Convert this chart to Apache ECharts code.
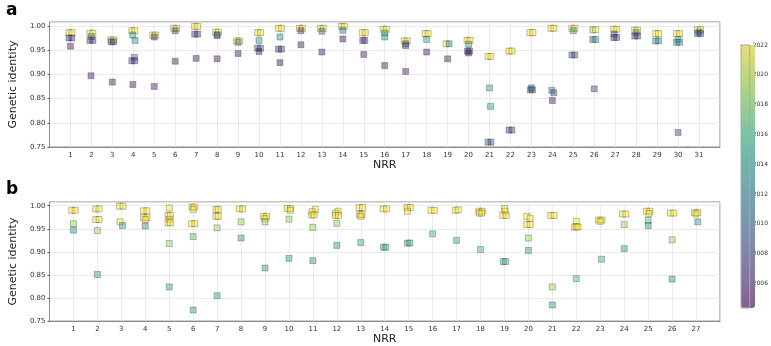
<!DOCTYPE html>
<html>
<head>
<meta charset="utf-8">
<script src="https://cdn.jsdelivr.net/npm/echarts@6/dist/echarts.min.js"></script>
<style>
  html, body { margin: 0; padding: 0; background: #fff; }
  #chart { width: 771px; height: 346px; }
</style>
</head>
<body>
<div id="chart"></div>
<script>
// panel a: NRR position (small jitter as drawn), genetic identity, year
const aX = [
  0.93, 1.07, 0.93, 1.07, 1,
  1.93, 2.07, 2, 1.93, 2.07, 1.98,
  2.93, 3.07, 2.95, 3.05, 3,
  3.93, 4.07, 3.97, 4.08, 4.05, 3.93, 4.07, 3.98,
  4.93, 5.07, 5, 5,
  5.93, 6.07, 6, 6,
  6.93, 7.07, 6.93, 7.07, 7,
  7.93, 8.07, 8, 8, 8,
  8.93, 9.07, 9, 9,
  9.93, 10.07, 10, 9.93, 10.07, 10,
  10.93, 11.07, 11, 10.93, 11.07, 11,
  11.93, 12.07, 12, 12,
  12.93, 13.07, 13, 13,
  13.93, 14.07, 14, 14,
  14.93, 15.07, 14.95, 15.05, 15,
  15.93, 16.07, 16, 16, 16,
  16.93, 17.07, 17, 17, 17,
  17.93, 18.07, 18, 18,
  18.93, 19.07, 19,
  19.93, 20.07, 20, 19.95, 20.05, 20,
  20.93, 21.07, 21, 21.05, 20.93, 21.07,
  21.93, 22.07, 21.93, 22.07,
  22.93, 23.07, 23, 22.95, 23.05,
  23.93, 24.07, 23.97, 24.07, 24,
  24.93, 25.07, 25, 24.93, 25.07,
  25.93, 26.07, 25.93, 26.07, 26,
  26.93, 27.07, 26.95, 26.93, 27.07,
  27.93, 28.07, 28, 27.93, 28.07,
  28.93, 29.07, 28.93, 29.07,
  29.93, 30.07, 30, 29.93, 30.07, 30,
  30.93, 31.07, 31, 30.93, 31.07
];
const aIdentity = [
  0.986, 0.986, 0.975, 0.975, 0.958,
  0.985, 0.985, 0.978, 0.970, 0.970, 0.897,
  0.971, 0.971, 0.967, 0.967, 0.884,
  0.990, 0.990, 0.981, 0.970, 0.935, 0.928, 0.928, 0.879,
  0.981, 0.981, 0.977, 0.875,
  0.995, 0.995, 0.990, 0.927,
  0.999, 0.999, 0.983, 0.983, 0.933,
  0.987, 0.987, 0.982, 0.980, 0.932,
  0.969, 0.969, 0.966, 0.943,
  0.986, 0.986, 0.970, 0.954, 0.954, 0.947,
  0.995, 0.995, 0.977, 0.952, 0.952, 0.924,
  0.995, 0.995, 0.990, 0.961,
  0.995, 0.995, 0.989, 0.946,
  0.999, 0.999, 0.991, 0.973,
  0.986, 0.986, 0.970, 0.970, 0.941,
  0.993, 0.993, 0.985, 0.977, 0.918,
  0.969, 0.969, 0.963, 0.959, 0.906,
  0.984, 0.984, 0.972, 0.946,
  0.963, 0.963, 0.932,
  0.970, 0.970, 0.962, 0.948, 0.948, 0.944,
  0.937, 0.937, 0.872, 0.834, 0.760, 0.760,
  0.948, 0.948, 0.785, 0.785,
  0.986, 0.986, 0.872, 0.868, 0.868,
  0.995, 0.995, 0.867, 0.862, 0.846,
  0.995, 0.995, 0.990, 0.940, 0.940,
  0.992, 0.992, 0.972, 0.972, 0.870,
  0.993, 0.993, 0.983, 0.976, 0.976,
  0.991, 0.991, 0.986, 0.979, 0.979,
  0.984, 0.984, 0.969, 0.969,
  0.984, 0.984, 0.972, 0.966, 0.966, 0.780,
  0.992, 0.992, 0.987, 0.984, 0.984
];
const aYear = [
  2022, 2022, 2007, 2007, 2005,
  2022, 2022, 2014, 2007, 2007, 2005,
  2022, 2022, 2008, 2008, 2005,
  2022, 2022, 2015, 2014, 2010, 2007, 2007, 2005,
  2022, 2022, 2007, 2005,
  2022, 2022, 2007, 2005,
  2022, 2022, 2007, 2007, 2005,
  2022, 2022, 2014, 2007, 2005,
  2022, 2022, 2013, 2005,
  2022, 2022, 2014, 2009, 2009, 2005,
  2022, 2022, 2014, 2007, 2007, 2005,
  2022, 2022, 2007, 2005,
  2022, 2022, 2011, 2005,
  2022, 2022, 2012, 2005,
  2022, 2022, 2007, 2007, 2005,
  2022, 2022, 2015, 2014, 2005,
  2022, 2022, 2010, 2007, 2005,
  2022, 2022, 2014, 2005,
  2022, 2013, 2005,
  2022, 2022, 2015, 2007, 2007, 2005,
  2022, 2022, 2014, 2014, 2010, 2010,
  2022, 2022, 2009, 2009,
  2022, 2022, 2013, 2009, 2009,
  2022, 2022, 2012, 2008, 2005,
  2022, 2022, 2014, 2009, 2009,
  2019, 2022, 2010, 2014, 2007,
  2022, 2022, 2010, 2007, 2007,
  2022, 2022, 2013, 2007, 2007,
  2022, 2022, 2013, 2013,
  2022, 2022, 2015, 2013, 2013, 2007,
  2022, 2022, 2014, 2008, 2008
];

// panel b
const bX = [
  0.93, 1.07, 1, 1,
  1.93, 2.07, 1.93, 2.07, 2, 2,
  2.93, 3.07, 2.95, 3.05,
  3.93, 4.07, 3.93, 4.07, 4, 4,
  5, 4.95, 5.05, 5, 4.95, 5.05, 5, 5,
  5.95, 6.05, 6, 5.93, 6.07, 6, 6,
  6.95, 7.05, 6.95, 7.05, 7, 7,
  7.93, 8.07, 8, 8,
  8.93, 9.07, 9, 9, 9,
  9.93, 10.07, 10.05, 10, 10,
  11.1, 10.97, 10.95, 11.05, 11, 11,
  12.05, 11.95, 11.93, 12.07, 12, 12,
  12.93, 13.07, 12.95, 13.05, 13, 13,
  13.93, 14.07, 13.95, 14.05,
  14.93, 15.07, 14.95, 14.95, 15.05,
  15.93, 16.07, 16,
  16.95, 17.07, 17,
  17.93, 18.07, 17.95, 18.05, 18,
  19, 19.03, 18.93, 19.07, 18.95, 19.05,
  19.93, 20.07, 19.93, 20.07, 20, 20,
  20.93, 21.07, 21, 21,
  22, 21.93, 22, 22.07, 22,
  22.93, 23.07, 23, 23.05,
  23.93, 24.07, 24, 24,
  24.93, 25.07, 25.03, 25, 25,
  25.93, 26.07, 26, 26,
  26.93, 27.07, 27, 27.07
];
const bIdentity = [
  0.990, 0.990, 0.961, 0.947,
  0.993, 0.993, 0.970, 0.970, 0.946, 0.851,
  0.999, 0.999, 0.965, 0.957,
  0.989, 0.989, 0.974, 0.974, 0.970, 0.956,
  0.995, 0.979, 0.979, 0.970, 0.963, 0.963, 0.918, 0.824,
  0.997, 0.997, 0.992, 0.961, 0.961, 0.933, 0.774,
  0.992, 0.992, 0.977, 0.977, 0.952, 0.805,
  0.993, 0.993, 0.965, 0.930,
  0.977, 0.977, 0.972, 0.965, 0.865,
  0.994, 0.994, 0.990, 0.971, 0.886,
  0.992, 0.987, 0.980, 0.980, 0.953, 0.881,
  0.988, 0.984, 0.979, 0.979, 0.962, 0.914,
  0.996, 0.996, 0.981, 0.981, 0.977, 0.920,
  0.993, 0.993, 0.910, 0.910,
  0.996, 0.996, 0.988, 0.919, 0.919,
  0.990, 0.990, 0.939,
  0.990, 0.991, 0.925,
  0.988, 0.988, 0.984, 0.984, 0.905,
  0.994, 0.988, 0.979, 0.979, 0.879, 0.879,
  0.977, 0.973, 0.959, 0.959, 0.930, 0.903,
  0.979, 0.979, 0.824, 0.785,
  0.966, 0.954, 0.954, 0.954, 0.842,
  0.969, 0.969, 0.966, 0.884,
  0.982, 0.982, 0.959, 0.907,
  0.988, 0.988, 0.983, 0.968, 0.957,
  0.984, 0.984, 0.926, 0.841,
  0.985, 0.985, 0.982, 0.965
];
const bYear = [
  2022, 2022, 2019, 2014,
  2022, 2022, 2022, 2022, 2019, 2014,
  2022, 2022, 2022, 2014,
  2022, 2022, 2022, 2022, 2022, 2014,
  2022, 2022, 2022, 2022, 2022, 2022, 2019, 2014,
  2022, 2022, 2022, 2022, 2022, 2017, 2014,
  2022, 2022, 2022, 2022, 2019, 2014,
  2022, 2022, 2019, 2014,
  2022, 2022, 2022, 2019, 2014,
  2022, 2022, 2022, 2019, 2014,
  2022, 2022, 2022, 2022, 2019, 2014,
  2022, 2022, 2022, 2022, 2019, 2014,
  2022, 2022, 2022, 2022, 2022, 2015,
  2022, 2022, 2015, 2016,
  2022, 2022, 2022, 2014, 2016,
  2022, 2022, 2016,
  2022, 2022, 2015,
  2022, 2022, 2022, 2022, 2016,
  2022, 2022, 2022, 2022, 2015, 2016,
  2022, 2022, 2022, 2022, 2019, 2014,
  2022, 2022, 2019, 2014,
  2022, 2022, 2022, 2022, 2016,
  2022, 2022, 2022, 2016,
  2022, 2022, 2019, 2014,
  2022, 2022, 2022, 2017, 2014,
  2022, 2022, 2019, 2014,
  2022, 2022, 2022, 2014
];

const yearTicks = [2006, 2008, 2010, 2012, 2014, 2016, 2018, 2020, 2022];
const viridis = ['#440154', '#482878', '#3e4989', '#31688e', '#26828e',
                 '#1f9e89', '#35b779', '#6ece58', '#b5de2b', '#fde725'];

function fade(hex, a) {
  let r = parseInt(hex.slice(1, 3), 16), g = parseInt(hex.slice(3, 5), 16), b = parseInt(hex.slice(5, 7), 16);
  return 'rgba(' + r + ',' + g + ',' + b + ',' + a + ')';
}

const font = 'DejaVu Sans';
const gridColor = '#e6e6e6';
const frameColor = '#8c8c8c';

function xAxisFor(idx, maxNrr, gap) {
  return {
    gridIndex: idx, type: 'value', min: 0, max: maxNrr + 1, interval: 1,
    name: 'NRR', nameLocation: 'middle', nameGap: gap,
    nameTextStyle: { fontSize: 11, color: '#222', fontFamily: font },
    axisLine: { lineStyle: { color: frameColor } },
    axisTick: { show: false },
    axisLabel: {
      fontSize: 7, color: '#333', fontFamily: font, margin: 5,
      formatter: v => (v >= 1 && v <= maxNrr) ? String(v) : ''
    },
    splitLine: { show: true, lineStyle: { color: gridColor, width: 0.8 } }
  };
}

function yAxisFor(idx) {
  return {
    gridIndex: idx, type: 'value', min: 0.75, max: 1.008, interval: 0.05,
    name: 'Genetic identity', nameLocation: 'middle', nameGap: 25,
    nameTextStyle: { fontSize: 11, color: '#222', fontFamily: font },
    axisLine: { show: true, lineStyle: { color: frameColor } },
    axisTick: { show: true, length: 2, lineStyle: { color: '#555' } },
    axisLabel: {
      fontSize: 7, color: '#333', fontFamily: font, margin: 4, showMaxLabel: false,
      formatter: v => v.toFixed(2)
    },
    splitLine: { show: true, lineStyle: { color: gridColor, width: 0.8 } }
  };
}

function scatterFor(idx, xs, ys, years) {
  return {
    type: 'scatter', xAxisIndex: idx, yAxisIndex: idx,
    symbol: 'rect', symbolSize: 6,
    itemStyle: { borderColor: 'rgba(0,0,0,0.45)', borderWidth: 0.7 },
    data: xs.map((x, i) => [x, ys[i], years[i]])
  };
}

let chart = echarts.init(document.getElementById('chart'), null, { renderer: 'canvas' });
chart.setOption({
  animation: false,
  backgroundColor: '#fff',
  textStyle: { fontFamily: font },
  title: [
    { text: 'a', left: 1, top: -3, textStyle: { fontSize: 17, fontWeight: 'bold', color: '#000', fontFamily: font } },
    { text: 'b', left: 1, top: 176, textStyle: { fontSize: 17, fontWeight: 'bold', color: '#000', fontFamily: font } }
  ],
  grid: [
    { left: 44, top: 22, width: 676, height: 125, show: true, borderColor: frameColor, borderWidth: 1 },
    { left: 44, top: 202, width: 676, height: 125, show: true, borderColor: frameColor, borderWidth: 1 },
    { left: 741, top: 45, width: 14, height: 263, show: true, borderColor: '#aaa', borderWidth: 1, z: 6 }
  ],
  xAxis: [
    xAxisFor(0, 31, 11),
    xAxisFor(1, 27, 10),
    { gridIndex: 2, type: 'value', min: 0, max: 1, show: false }
  ],
  yAxis: [
    yAxisFor(0),
    yAxisFor(1),
    {
      gridIndex: 2, type: 'value', position: 'right', min: 2004.35, max: 2022,
      axisLine: { show: false },
      axisTick: { show: true, length: 2, lineStyle: { color: '#555' }, customValues: yearTicks },
      axisLabel: {
        fontSize: 6, color: '#333', fontFamily: font, margin: 3, customValues: yearTicks,
        formatter: v => String(Math.round(v))
      },
      splitLine: { show: false }
    }
  ],
  visualMap: {
    type: 'continuous', min: 2004.35, max: 2022, dimension: 2, seriesIndex: [0, 1],
    left: 741, top: 45, itemWidth: 14, itemHeight: 263, padding: 0,
    calculable: false, hoverLink: false, realtime: false,
    inRange: { color: viridis.map(c => fade(c, 0.55)) }
  },
  series: [
    scatterFor(0, aX, aIdentity, aYear),
    scatterFor(1, bX, bIdentity, bYear)
  ]
});
</script>
</body>
</html>
